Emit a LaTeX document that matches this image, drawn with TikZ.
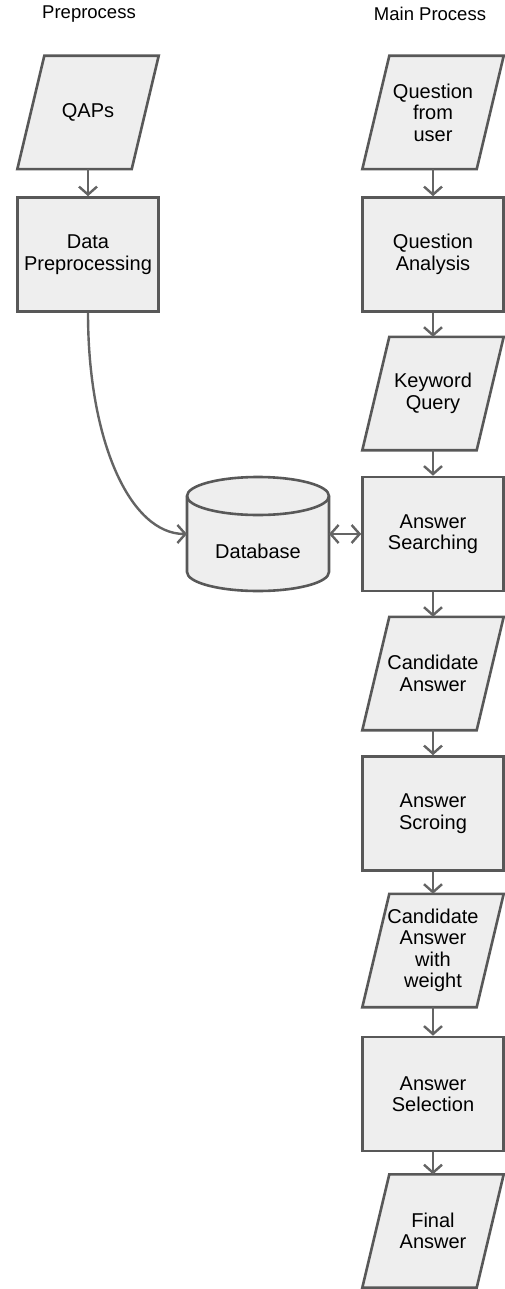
\documentclass[tikz,border=0pt]{standalone}
\usepackage{fontspec}
\setmainfont{Liberation Sans}
\usetikzlibrary{shapes.geometric,arrows.meta,calc}
\definecolor{boxfill}{HTML}{EEEEEE}
\definecolor{boxline}{HTML}{585858}
\definecolor{arrline}{HTML}{646464}
\pgfdeclarelayer{bg}
\pgfsetlayers{bg,main}
\begin{document}
\begin{tikzpicture}[x=1pt,y=1pt,
  txt/.style={align=center,font=\fontsize{20}{21.5}\selectfont,inner sep=0pt},
  iobox/.style={txt,rectangle,minimum width=141pt,minimum height=113pt},
  procbox/.style={txt,rectangle,draw=boxline,fill=boxfill,line width=2.6pt,minimum width=141pt,minimum height=114pt},
  paral/.style={draw=boxline,fill=boxfill,line width=2.6pt,line join=miter},
  title/.style={font=\fontsize{18.5}{20}\selectfont},
  tip/.tip={Straight Barb[length=8pt,width=18pt,line width=2.4pt]},
  conn/.style={draw=arrline,line width=2.4pt,-tip},
  dconn/.style={draw=arrline,line width=2.4pt,tip-tip}
]
\useasboundingbox (0,0) rectangle (505,-1289);

\node[title] (t1) at (89,-14) {Preprocess};
\node[title] (t2) at (430,-14) {Main Process};

% left column
\node[iobox] (qaps) at (88,-112.5) {QAPs};
\node[procbox] (dp) at (88,-254.5) {Data\\Preprocessing};

% database
\node[minimum width=142pt,minimum height=114pt,inner sep=0pt,outer sep=0pt] (db) at (258,-534) {};
\path[draw=boxline,fill=boxfill,line width=2.6pt]
  (187,-496) -- (187,-572) arc[start angle=180,end angle=360,x radius=71pt,y radius=19pt]
  -- (329,-496) arc[start angle=0,end angle=180,x radius=71pt,y radius=19pt] -- cycle;
\draw[boxline,line width=2.6pt] (187,-496) arc[start angle=180,end angle=360,x radius=71pt,y radius=19pt];
\node[txt] (dbt) at (258,-551) {Database};

% right column
\node[iobox] (q) at (433,-112.5) {Question\\from\\user};
\node[procbox] (qa) at (433,-254.5) {Question\\Analysis};
\node[iobox] (kq) at (433,-393.5) {Keyword\\Query};
\node[procbox] (as) at (433,-534) {Answer\\Searching};
\node[iobox] (ca) at (433,-673.5) {Candidate\\Answer};
\node[procbox] (asc) at (433,-813.5) {Answer\\Scroing};
\node[iobox] (caw) at (433,-950.5) {Candidate\\Answer\\with\\weight};
\node[procbox] (asel) at (433,-1094) {Answer\\Selection};
\node[iobox] (fa) at (433,-1231) {Final\\Answer};

\begin{pgfonlayer}{bg}
\foreach \n in {qaps,q,kq,ca,caw,fa}
  \draw[paral] ($(\n.north west)+(27,0)$) -- (\n.north east)
     -- ($(\n.south east)+(-27,0)$) -- (\n.south west) -- cycle;
\end{pgfonlayer}

% connectors
\draw[conn] (qaps.south) -- (dp.north);
\draw[conn] (dp.south) .. controls +(0,-128) and +(-57,0) .. (db.west);
\draw[dconn] (db.east) -- (as.west);
\draw[conn] (q.south) -- (qa.north);
\draw[conn] (qa.south) -- (kq.north);
\draw[conn] (kq.south) -- (as.north);
\draw[conn] (as.south) -- (ca.north);
\draw[conn] (ca.south) -- (asc.north);
\draw[conn] (asc.south) -- (caw.north);
\draw[conn] (caw.south) -- (asel.north);
\draw[conn] (asel.south) -- (fa.north);
\end{tikzpicture}
\end{document}
